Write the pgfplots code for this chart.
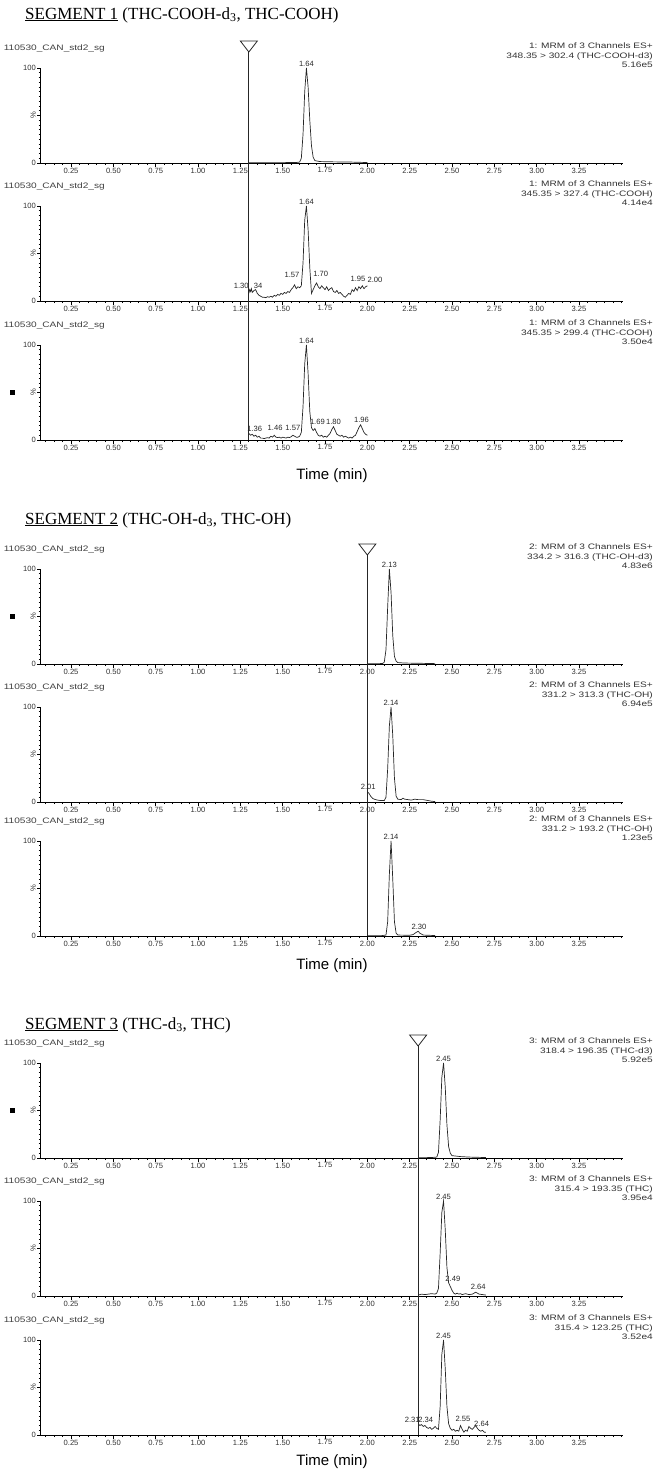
\documentclass[border=0pt]{standalone}
\usepackage{pgfplots}
\pgfplotsset{compat=1.18}
\usepackage{fontspec}
\setmainfont{Liberation Sans}
\newfontfamily\seriffont{Liberation Serif}
\newfontfamily\widefont[FakeStretch=1.28]{Liberation Sans}
\newcommand\hdr{\widefont\fontsize{7.9}{9.4}\selectfont}
\newcommand\pk{\fontsize{7.6}{8}\selectfont}
\pgfplotsset{
  chrom/.style={
    scale only axis, width=582.4pt, height=95pt, anchor=south west,
    xmin=0.07, xmax=3.51, ymin=0, ymax=100,
    axis x line=bottom, axis y line=left,
    axis line style={-, black, line width=0.9pt},
    xtick={0.25,0.5,0.75,1,1.25,1.5,1.75,2,2.25,2.5,2.75,3,3.25},
    minor xtick={0.10,0.15,0.20,0.30,0.35,0.40,0.45,0.55,0.60,0.65,0.70,0.80,0.85,0.90,0.95,1.05,1.10,1.15,1.20,1.30,1.35,1.40,1.45,1.55,1.60,1.65,1.70,1.80,1.85,1.90,1.95,2.05,2.10,2.15,2.20,2.30,2.35,2.40,2.45,2.55,2.60,2.65,2.70,2.80,2.85,2.90,2.95,3.05,3.10,3.15,3.20,3.30,3.35,3.40,3.45,3.50},
    ytick={0,50,100}, yticklabels={0,{\rotatebox{90}{\%}},100},
    minor ytick={5,10,15,20,25,30,35,40,45,55,60,65,70,75,80,85,90,95},
    tick align=outside, major tick length=3.5pt, minor tick length=2pt,
    every tick/.style={black, line width=0.7pt},
    /pgf/number format/assume math mode=true,
    xticklabel style={/pgf/number format/fixed, /pgf/number format/fixed zerofill, /pgf/number format/precision=2, font=\pk, text=black!80, inner sep=1pt},
    yticklabel style={font=\pk, text=black!80, inner sep=1pt},
    clip=false,
  },
}
\tikzset{
  tr/.style={black!85, line width=0.7pt, mark=none},
  hdrtext/.style={anchor=west, font=\hdr, text=black!75, inner sep=0pt},
  mrm/.style={anchor=north east, align=right, font=\hdr, text=black!80, inner sep=0pt},
  pl/.style={anchor=south, font=\pk, text=black!85, inner sep=1pt},
  sq/.style={fill=black, minimum size=5pt, inner sep=0pt},
  marker/.style={line width=0.8pt, black!85},
}
\newcommand\header[2]{%
  \node[hdrtext] at ([xshift=-37pt,yshift=20pt]rel axis cs:0,1) {110530\_CAN\_std2\_sg};
  \node[mrm] at ([xshift=30pt,yshift=25pt]rel axis cs:1,1) {#1\\#2};
}
\newcommand\blacksq{\node[sq] at ([xshift=-28pt]rel axis cs:0,0.5) {};}
\begin{document}
\begin{tikzpicture}
\path[use as bounding box] (0,0) rectangle (657pt,-1477pt);

% ---------------- SEGMENT 1 ----------------
\node[anchor=west, font=\seriffont\fontsize{17}{20}\selectfont, inner sep=0pt] at (25pt,-15pt)
  {\underline{SEGMENT 1} (THC-COOH-d\textsubscript{3}, THC-COOH)};

\begin{axis}[chrom, at={(40.6pt,-163pt)}]
\header{1: MRM of 3 Channels ES+}{348.35 > 302.4 (THC-COOH-d3)\\5.16e5}
\addplot[tr] coordinates {(1.30,0.3)(1.40,0.3)(1.50,0.4)(1.58,0.5)(1.60,1)(1.61,5)(1.62,30)(1.63,75)(1.64,100)(1.65,80)(1.66,45)(1.67,18)(1.68,6)(1.69,2.5)(1.72,1.5)(1.80,1.2)(1.90,1)(2.00,0.5)};
\node[pl] at (axis cs:1.64,100) {1.64};
\coordinate (A1) at ([yshift=16pt]axis cs:1.30,100);
\end{axis}

\begin{axis}[chrom, at={(40.6pt,-301pt)}]
\header{1: MRM of 3 Channels ES+}{345.35 > 327.4 (THC-COOH)\\4.14e4}
\addplot[tr] coordinates {(1.300,8)(1.305,12)(1.31,10)(1.315,13)(1.32,9)(1.33,11)(1.34,12)(1.35,8)(1.36,6)(1.37,5)(1.38,4)(1.39,4)(1.40,3.5)(1.41,4.5)(1.42,4)(1.43,5)(1.44,4)(1.45,6)(1.46,5)(1.47,7)(1.48,6)(1.49,8)(1.50,7)(1.51,9)(1.52,8)(1.53,10)(1.54,9)(1.55,12)(1.56,14)(1.57,17)(1.58,13)(1.59,15)(1.60,14)(1.61,16)(1.62,40)(1.63,85)(1.64,100)(1.65,75)(1.66,35)(1.67,8)(1.68,12)(1.69,16)(1.70,19)(1.71,15)(1.72,13)(1.73,16)(1.74,14)(1.75,12)(1.76,15)(1.77,11)(1.78,13)(1.79,14)(1.80,10)(1.81,9)(1.82,11)(1.83,8)(1.84,9)(1.85,7)(1.86,5)(1.87,4)(1.88,6)(1.89,8)(1.90,7)(1.91,12)(1.92,10)(1.93,14)(1.94,11)(1.95,15)(1.96,13)(1.97,16)(1.98,13)(1.99,15)(2.00,16)};
\node[pl] at (axis cs:1.64,100) {1.64};
\node[pl] at (axis cs:1.255,12) {1.30};
\node[pl] at (axis cs:1.355,12) {34};
\node[pl] at (axis cs:1.555,23) {1.57};
\node[pl] at (axis cs:1.725,24) {1.70};
\node[pl] at (axis cs:1.945,19) {1.95};
\node[pl] at (axis cs:2.045,18) {2.00};
\end{axis}

\begin{axis}[chrom, at={(40.6pt,-440pt)}]
\header{1: MRM of 3 Channels ES+}{345.35 > 299.4 (THC-COOH)\\3.50e4}
\blacksq
\addplot[tr] coordinates {(1.30,7)(1.31,5)(1.32,6)(1.33,4)(1.34,5)(1.35,3)(1.36,4)(1.37,2)(1.38,2)(1.39,1.5)(1.40,2)(1.41,2.5)(1.42,2)(1.43,4)(1.44,3)(1.45,5)(1.46,3)(1.47,2.5)(1.48,3)(1.49,2)(1.50,3)(1.51,2.5)(1.52,2)(1.53,3)(1.54,2.5)(1.55,3.5)(1.56,5)(1.57,4)(1.58,3)(1.59,3)(1.60,4)(1.61,8)(1.62,35)(1.63,80)(1.64,100)(1.65,70)(1.66,30)(1.67,13)(1.68,10)(1.69,12)(1.70,8)(1.71,5)(1.72,4)(1.73,5)(1.74,3)(1.75,4)(1.76,3)(1.77,5)(1.78,7)(1.79,11)(1.80,14)(1.81,10)(1.82,6)(1.83,5)(1.84,4)(1.85,5)(1.86,3)(1.87,4)(1.88,3)(1.89,2)(1.90,3)(1.91,2)(1.92,4)(1.93,5)(1.94,9)(1.95,13)(1.96,16)(1.97,12)(1.98,8)(1.99,6)(2.00,5)};
\node[pl] at (axis cs:1.64,100) {1.64};
\node[pl] at (axis cs:1.335,8) {1.36};
\node[pl] at (axis cs:1.455,9) {1.46};
\node[pl] at (axis cs:1.56,9) {1.57};
\node[pl] at (axis cs:1.705,15) {1.69};
\node[pl] at (axis cs:1.80,15) {1.80};
\node[pl] at (axis cs:1.965,17) {1.96};
\coordinate (B1) at (axis cs:1.30,0);
\end{axis}
\node[font=\fontsize{15}{18}\selectfont] at (332pt,-476pt) {Time (min)};
\draw[marker] (A1) -- (B1);
\draw[marker, fill=white] (A1) -- ++(-8.5pt,11pt) -- ++(17pt,0) -- cycle;

% ---------------- SEGMENT 2 ----------------
\node[anchor=west, font=\seriffont\fontsize{17}{20}\selectfont, inner sep=0pt] at (25pt,-520pt)
  {\underline{SEGMENT 2} (THC-OH-d\textsubscript{3}, THC-OH)};

\begin{axis}[chrom, at={(40.6pt,-664pt)}]
\header{2: MRM of 3 Channels ES+}{334.2 > 316.3 (THC-OH-d3)\\4.83e6}
\blacksq
\addplot[tr] coordinates {(2.00,0.3)(2.05,0.3)(2.09,0.5)(2.10,2)(2.11,15)(2.12,60)(2.13,100)(2.14,75)(2.15,30)(2.16,8)(2.17,3)(2.18,1.5)(2.22,1)(2.30,0.8)(2.40,0.4)};
\node[pl] at (axis cs:2.13,100) {2.13};
\coordinate (A2) at ([yshift=14pt]axis cs:2.00,100);
\end{axis}

\begin{axis}[chrom, at={(40.6pt,-802pt)}]
\header{2: MRM of 3 Channels ES+}{331.2 > 313.3 (THC-OH)\\6.94e5}
\addplot[tr] coordinates {(2.00,11)(2.01,9)(2.02,6)(2.03,4)(2.04,3)(2.05,2.5)(2.06,2)(2.08,1.5)(2.10,1.5)(2.11,5)(2.12,35)(2.13,80)(2.14,100)(2.15,70)(2.16,25)(2.17,6)(2.18,3)(2.20,2.5)(2.21,4)(2.22,3)(2.24,2.5)(2.26,2)(2.28,3)(2.30,2.5)(2.33,2.5)(2.36,1.5)(2.38,0.8)(2.40,0.5)};
\node[pl] at (axis cs:2.14,100) {2.14};
\node[pl] at (axis cs:2.005,12) {2.01};
\end{axis}

\begin{axis}[chrom, at={(40.6pt,-936pt)}]
\header{2: MRM of 3 Channels ES+}{331.2 > 193.2 (THC-OH)\\1.23e5}
\addplot[tr] coordinates {(2.00,0.3)(2.08,0.3)(2.11,1)(2.12,15)(2.13,65)(2.14,100)(2.15,60)(2.16,15)(2.17,3)(2.18,1)(2.25,0.8)(2.27,1.5)(2.29,4)(2.30,5)(2.31,3)(2.33,1)(2.40,0.5)};
\node[pl] at (axis cs:2.14,100) {2.14};
\node[pl] at (axis cs:2.305,6) {2.30};
\coordinate (B2) at (axis cs:2.00,0);
\end{axis}
\node[font=\fontsize{15}{18}\selectfont] at (332pt,-966pt) {Time (min)};
\draw[marker] (A2) -- (B2);
\draw[marker, fill=white] (A2) -- ++(-8.5pt,11pt) -- ++(17pt,0) -- cycle;

% ---------------- SEGMENT 3 ----------------
\node[anchor=west, font=\seriffont\fontsize{17}{20}\selectfont, inner sep=0pt] at (25pt,-1025pt)
  {\underline{SEGMENT 3} (THC-d\textsubscript{3}, THC)};

\begin{axis}[chrom, at={(40.6pt,-1158pt)}]
\header{3: MRM of 3 Channels ES+}{318.4 > 196.35 (THC-d3)\\5.92e5}
\blacksq
\addplot[tr] coordinates {(2.30,0.3)(2.38,0.5)(2.41,1)(2.42,6)(2.43,40)(2.44,85)(2.45,100)(2.46,75)(2.47,35)(2.48,12)(2.49,5)(2.50,2.5)(2.55,1.5)(2.60,1)(2.70,0.5)};
\node[pl] at (axis cs:2.45,100) {2.45};
\coordinate (A3) at ([yshift=17pt]axis cs:2.30,100);
\end{axis}

\begin{axis}[chrom, at={(40.6pt,-1296pt)}]
\header{3: MRM of 3 Channels ES+}{315.4 > 193.35 (THC)\\3.95e4}
\addplot[tr] coordinates {(2.30,1)(2.32,2)(2.34,1.5)(2.36,2)(2.38,2.5)(2.40,2)(2.41,3)(2.42,8)(2.43,45)(2.44,88)(2.45,100)(2.46,70)(2.47,30)(2.48,14)(2.49,10)(2.50,6)(2.51,3)(2.52,2)(2.53,3)(2.54,2)(2.55,2.5)(2.56,1.5)(2.58,2.5)(2.60,1.5)(2.62,2)(2.64,4)(2.66,2)(2.68,1.5)(2.70,1)};
\node[pl] at (axis cs:2.45,100) {2.45};
\node[pl] at (axis cs:2.505,14) {2.49};
\node[pl] at (axis cs:2.655,6) {2.64};
\end{axis}

\begin{axis}[chrom, at={(40.6pt,-1435pt)}]
\header{3: MRM of 3 Channels ES+}{315.4 > 123.25 (THC)\\3.52e4}
\addplot[tr] coordinates {(2.30,12)(2.31,10)(2.32,11)(2.33,9)(2.34,10)(2.35,8)(2.36,7)(2.37,8)(2.38,6)(2.39,7)(2.40,9)(2.41,7)(2.42,6)(2.43,30)(2.44,85)(2.45,100)(2.46,70)(2.47,30)(2.48,12)(2.49,7)(2.50,5)(2.51,6)(2.52,4)(2.53,5)(2.54,4)(2.55,10)(2.56,6)(2.57,3)(2.58,5)(2.59,4)(2.60,9)(2.61,7)(2.62,6)(2.63,8)(2.64,10)(2.65,7)(2.66,5)(2.67,4)(2.68,5)(2.69,3)(2.70,3)};
\node[pl] at (axis cs:2.45,100) {2.45};
\node[pl] at (axis cs:2.265,12) {2.31};
\node[pl] at (axis cs:2.345,12) {2.34};
\node[pl] at (axis cs:2.565,13) {2.55};
\node[pl] at (axis cs:2.675,8) {2.64};
\coordinate (B3) at (axis cs:2.30,0);
\end{axis}
\node[font=\fontsize{15}{18}\selectfont] at (332pt,-1462pt) {Time (min)};
\draw[marker] (A3) -- (B3);
\draw[marker, fill=white] (A3) -- ++(-8.5pt,11pt) -- ++(17pt,0) -- cycle;
\end{tikzpicture}
\end{document}
